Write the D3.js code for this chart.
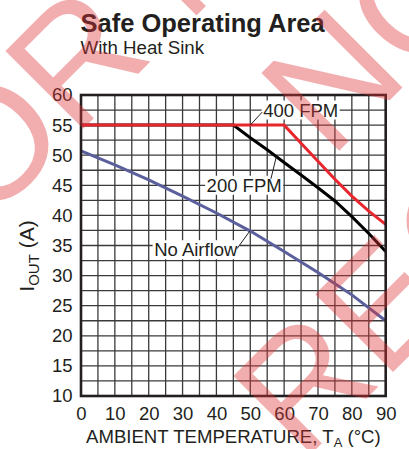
<!DOCTYPE html>
<html>
<head>
<meta charset="utf-8">
<script src="https://cdn.jsdelivr.net/npm/d3@7"></script>
<style>
  body { margin: 0; background: #fff; }
  text { font-family: "Liberation Sans", Arial, Helvetica, sans-serif; fill: #231f20; }
</style>
</head>
<body>
<div id="chart"></div>
<script>
// values
var tempTicks = [0, 10, 20, 30, 40, 50, 60, 70, 80, 90];
var currentTicks = [10, 15, 20, 25, 30, 35, 40, 45, 50, 55, 60];

var noAirT = [0, 10, 20, 30, 40, 50, 60, 70, 80, 90];
var noAirI = [50.7, 48.4, 45.9, 43.2, 40.4, 37.4, 34.0, 30.5, 26.8, 22.5];

var fpm200T = [0, 45, 50, 55, 60, 65, 70, 75, 80, 85, 90];
var fpm200I = [55, 55, 52.9, 50.9, 48.8, 46.7, 44.6, 42.4, 39.8, 37.0, 34.0];

var fpm400T = [0, 60, 65, 70, 75, 80, 85, 90];
var fpm400I = [55, 55, 52.0, 49.0, 46.0, 43.2, 40.7, 38.5];

var seriesNames = ["No Airflow", "200 FPM", "400 FPM"];

var wmLines = ["NOT RECOMMENDED FOR NEW DESIGNS", "NO RECOMMENDED REPLACEMENT", "RECOMMENDED REPLACEMENT PART"];

var W = 409, H = 449;
var svg = d3.select("#chart").append("svg")
    .attr("width", W).attr("height", H);

var x = d3.scaleLinear().domain([0, 90]).range([81, 385.7]);
var y = d3.scaleLinear().domain([10, 60]).range([396, 95]);

// title
svg.append("text").attr("x", 80.5).attr("y", 31.7)
  .style("font-size", "25.5px").style("font-weight", "bold")
  .text("Safe Operating Area");
svg.append("text").attr("x", 80.5).attr("y", 54.3)
  .style("font-size", "18.7px")
  .text("With Heat Sink");

// grid
var grid = svg.append("g").attr("stroke", "#3a3a3a").attr("stroke-width", 1.3);
grid.selectAll(".vg").data(d3.range(5, 90, 5)).enter().append("line")
  .attr("x1", d => x(d)).attr("x2", d => x(d))
  .attr("y1", y(60)).attr("y2", y(10));
grid.selectAll(".hg").data(d3.range(12.5, 60, 2.5)).enter().append("line")
  .attr("y1", d => y(d)).attr("y2", d => y(d))
  .attr("x1", x(0)).attr("x2", x(90));

// axes (labels only)
var yAxis = svg.append("g").attr("transform", "translate(" + x(0) + ",0)")
  .call(d3.axisLeft(y).tickValues(currentTicks).tickSize(0).tickPadding(8.5));
var xAxis = svg.append("g").attr("transform", "translate(0," + y(10) + ")")
  .call(d3.axisBottom(x).tickValues(tempTicks).tickSize(0).tickPadding(10.5));
[yAxis, xAxis].forEach(function(a) {
  a.select(".domain").remove();
  a.selectAll("text").style("font-size", "18.5px").attr("fill", "#231f20")
    .style("font-family", "'Liberation Sans', Arial, sans-serif");
});

// axis titles
var yt = svg.append("text")
  .attr("transform", "translate(33.5,256) rotate(-90)")
  .attr("text-anchor", "middle")
  .style("font-size", "21px");
yt.append("tspan").text("I");
yt.append("tspan").attr("dy", 5).style("font-size", "15px").text("OUT");
yt.append("tspan").attr("dy", -5).text(" (A)");

var xt = svg.append("text").attr("x", 86).attr("y", 443.3)
  .style("font-size", "18.6px");
xt.append("tspan").text("AMBIENT TEMPERATURE, T");
xt.append("tspan").attr("dy", 4).style("font-size", "13px").text("A");
xt.append("tspan").attr("dy", -4).text(" (\u00B0C)");

// curves
var line = d3.line().x(d => x(d[0])).y(d => y(d[1]));
var series = [
  { t: noAirT, i: noAirI, color: "#5b5f9c" },
  { t: fpm200T, i: fpm200I, color: "#000000" },
  { t: fpm400T, i: fpm400I, color: "#e8262d" }
];
svg.append("g").selectAll("path").data(series).enter().append("path")
  .attr("d", d => line(d.t.map((t, k) => [t, d.i[k]])))
  .attr("fill", "none")
  .attr("stroke", d => d.color)
  .attr("stroke-width", 3)
  .attr("stroke-linejoin", "miter");

// plot frame
svg.append("rect")
  .attr("x", x(0)).attr("y", y(60))
  .attr("width", x(90) - x(0)).attr("height", y(10) - y(60))
  .attr("fill", "none").attr("stroke", "#231f20").attr("stroke-width", 2.6);

// curve labels with white boxes and leaders
function curveAt(s, t) {
  return d3.scaleLinear().domain(s.t).range(s.i)(t);
}
function addLabel(name, tx, ty, leaderFn) {
  var g = svg.append("g");
  var r = g.append("rect").attr("fill", "#fff");
  var txt = g.append("text").attr("x", x(tx)).attr("y", y(ty)).attr("dy", "0.35em")
    .style("font-size", "18.5px").text(name);
  var b = txt.node().getBBox();
  r.attr("x", b.x - 1.5).attr("y", b.y + 1).attr("width", b.width + 3).attr("height", b.height - 2);
  var p = leaderFn(b);
  svg.append("line").attr("x1", p[0]).attr("y1", p[1]).attr("x2", p[2]).attr("y2", p[3])
    .attr("stroke", "#231f20").attr("stroke-width", 1);
}
addLabel(seriesNames[2], 53.8, 57.5, function(b) {
  return [b.x - 1, b.y + b.height * 0.6, x(50), y(curveAt(series[2], 50))];
});
addLabel(seriesNames[1], 37.1, 45, function(b) {
  return [x(56.1), b.y + 4, x(57.7), y(curveAt(series[1], 57.7))];
});
addLabel(seriesNames[0], 21.6, 34.3, function(b) {
  return [b.x + b.width - 1, b.y + b.height * 0.45, x(49.9), y(curveAt(series[0], 49.9))];
});

// pink watermark over everything
var wm = svg.append("g")
  .style("fill", "rgb(222,50,55)")
  .style("fill-opacity", 0.4);
function wmLine(str, prefixLen, px, py) {
  var t = wm.append("text")
    .style("font-size", "160px")
    .style("fill", "inherit")
    .text(str);
  var off = prefixLen > 0 ? t.node().getSubStringLength(0, prefixLen) : 0;
  t.attr("x", -off).attr("transform", "translate(" + px + "," + py + ") rotate(-45)");
}
wmLine(wmLines[0], 18, 74, 138);
wmLine(wmLines[1], 0, 330, 160);
wmLine(wmLines[2], 0, 302, 463);
</script>
</body>
</html>
